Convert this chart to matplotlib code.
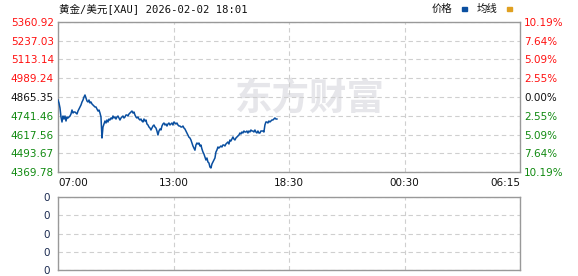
import numpy as np
import matplotlib
matplotlib.use("Agg")
import matplotlib.pyplot as plt

# ---------------- data ----------------
title_text = "黄金/美元[XAU] 2026-02-02 18:01"
base_price = 4865.35
price_ticks = [4369.78, 4493.67, 4617.56, 4741.46, 4865.35, 4989.24, 5113.14, 5237.03, 5360.92]
pct_labels = ["10.19%", "7.64%", "5.09%", "2.55%", "0.00%", "2.55%", "5.09%", "7.64%", "10.19%"]
x_tick_labels = ["07:00", "13:00", "18:30", "00:30", "06:15"]
session_minutes = 1395          # 07:00 -> 06:15 next day
last_minute = 661               # 18:01
vol_tick_labels = ["0", "0", "0", "0", "0"]

prices = [
    4845.5, 4825.7, 4792.7, 4733.2, 4700.2, 4739.8, 4719.9, 4739.8, 4706.8, 4733.2,
    4726.6, 4733.2, 4739.8, 4753.0, 4779.5, 4759.6, 4766.2, 4766.2, 4759.6, 4753.0,
    4772.8, 4786.1, 4799.3, 4812.5, 4832.3, 4845.5, 4865.4, 4878.6, 4858.7, 4838.9,
    4832.3, 4845.5, 4825.7, 4832.3, 4819.1, 4812.5, 4805.9, 4799.3, 4799.3, 4786.1,
    4772.8, 4779.5, 4759.6, 4733.2, 4594.4, 4667.1, 4687.0, 4706.8, 4693.6, 4713.4,
    4700.2, 4719.9, 4713.4, 4726.6, 4719.9, 4739.8, 4726.6, 4733.2, 4719.9, 4733.2,
    4739.8, 4726.6, 4713.4, 4726.6, 4733.2, 4739.8, 4726.6, 4733.2, 4746.4, 4746.4,
    4739.8, 4753.0, 4759.6, 4766.2, 4772.8, 4759.6, 4766.2, 4746.4, 4733.2, 4726.6,
    4733.2, 4719.9, 4713.4, 4719.9, 4706.8, 4700.2, 4719.9, 4706.8, 4713.4, 4687.0,
    4680.4, 4667.1, 4660.5, 4647.3, 4660.5, 4673.7, 4680.4, 4667.1, 4660.5, 4640.7,
    4614.3, 4640.7, 4653.9, 4647.3, 4673.7, 4687.0, 4693.6, 4680.4, 4687.0, 4673.7,
    4687.0, 4693.6, 4680.4, 4687.0, 4693.6, 4680.4, 4700.2, 4693.6, 4687.0, 4693.6,
    4680.4, 4673.7, 4673.7, 4667.1, 4667.1, 4673.7, 4660.5, 4653.9, 4640.7, 4627.5,
    4614.3, 4600.0, 4594.4, 4581.2, 4561.4, 4541.6, 4528.4, 4514.0, 4548.2, 4561.4,
    4554.8, 4561.4, 4541.6, 4548.2, 4521.8, 4502.0, 4488.6, 4468.9, 4449.1, 4462.3,
    4435.9, 4429.3, 4402.8, 4396.2, 4422.6, 4435.9, 4449.1, 4462.3, 4501.9, 4515.2,
    4535.0, 4528.4, 4535.0, 4541.6, 4535.0, 4548.2, 4548.2, 4541.6, 4554.8, 4561.4,
    4568.0, 4554.8, 4581.2, 4574.6, 4587.8, 4601.1, 4587.8, 4581.2, 4594.4, 4601.1,
    4607.7, 4614.3, 4627.5, 4620.9, 4634.1, 4627.5, 4640.7, 4634.1, 4634.1, 4640.7,
    4627.5, 4640.7, 4634.1, 4647.3, 4640.7, 4640.7, 4634.1, 4647.3, 4634.1, 4627.5,
    4640.7, 4627.5, 4627.5, 4640.7, 4640.7, 4640.7, 4634.1, 4680.4, 4700.2, 4700.2,
    4693.6, 4706.8, 4700.2, 4706.8, 4713.4, 4713.4, 4719.9, 4726.6, 4719.9, 4719.9,
]

# ---------------- styles ----------------
RED = "#ff1010"
GREEN = "#108a10"
BLACK = "#101010"
LINE = "#0a4fa0"
GRID = "#cfcfcf"
BORDER = "#999999"
cjk = ["Noto Sans CJK SC", "DejaVu Sans"]
mono_cjk = ["DejaVu Sans Mono", "Noto Sans CJK SC"]
fs = 7.5

minutes = np.linspace(0, last_minute, len(prices))
x_ticks = np.linspace(0, session_minutes, len(x_tick_labels))

fig = plt.figure(figsize=(5.78, 2.76), dpi=100)
fig.patch.set_facecolor("white")

ax = fig.add_axes([58 / 578, 1 - 172 / 276, 462 / 578, 150 / 276])
axv = fig.add_axes([58 / 578, 1 - 270 / 276, 462 / 578, 73 / 276])

# watermark
ax.text(0.545, 0.49, "东方财富", transform=ax.transAxes, fontsize=27, fontweight="bold",
        color="#e6e6ea", family=cjk, ha="center", va="center", zorder=0)

ax.plot(minutes, prices, color=LINE, lw=1.1, zorder=3)

for a in (ax, axv):
    a.set_xlim(0, session_minutes)
    a.set_xticks(x_ticks)
    a.grid(True, color=GRID, lw=0.8, ls=(0, (4, 3)))
    for s in a.spines.values():
        s.set_color(BORDER)
        s.set_linewidth(1.0)
    a.tick_params(length=0)

ax.set_ylim(price_ticks[0], price_ticks[-1])
ax.set_yticks(price_ticks)
ax.set_yticklabels([f"{p:.2f}" for p in price_ticks], fontsize=fs)
for lbl, p in zip(ax.get_yticklabels(), price_ticks):
    lbl.set_color(RED if p > base_price + 0.01 else (GREEN if p < base_price - 0.01 else BLACK))
ax.tick_params(axis="y", pad=3)

ax.set_xticklabels(x_tick_labels, fontsize=fs, color=BLACK)
xl = ax.get_xticklabels()
xl[0].set_ha("left")
xl[-1].set_ha("right")
ax.tick_params(axis="x", pad=4)

axr = ax.twinx()
axr.set_ylim(ax.get_ylim())
axr.set_yticks(price_ticks)
axr.set_yticklabels(pct_labels, fontsize=fs)
for lbl, p in zip(axr.get_yticklabels(), price_ticks):
    lbl.set_color(RED if p > base_price + 0.01 else (GREEN if p < base_price - 0.01 else BLACK))
axr.tick_params(length=0, pad=3)
for s in axr.spines.values():
    s.set_visible(False)

axv.set_ylim(0, 4)
axv.set_yticks(range(5))
axv.set_yticklabels(vol_tick_labels, fontsize=fs, color="#1a2a50")
axv.set_xticklabels([])
axv.tick_params(axis="y", pad=6)

# title and legend
fig.text(59 / 578, 1 - 9 / 276, title_text, fontsize=7.6, family=mono_cjk, color=BLACK,
         ha="left", va="center")
fig.text(432 / 578, 1 - 9 / 276, "价格", fontsize=7.5, family=cjk, color=BLACK, ha="left", va="center")
fig.text(477 / 578, 1 - 9 / 276, "均线", fontsize=7.5, family=cjk, color=BLACK, ha="left", va="center")
fig.patches.append(plt.Rectangle((462 / 578, 1 - 10.5 / 276), 5 / 578, 3 / 276,
                                 transform=fig.transFigure, color="#0a4fa0"))
fig.patches.append(plt.Rectangle((507 / 578, 1 - 10.5 / 276), 5 / 578, 3 / 276,
                                 transform=fig.transFigure, color="#e0a020"))

fig.savefig("out.png", dpi=100)
